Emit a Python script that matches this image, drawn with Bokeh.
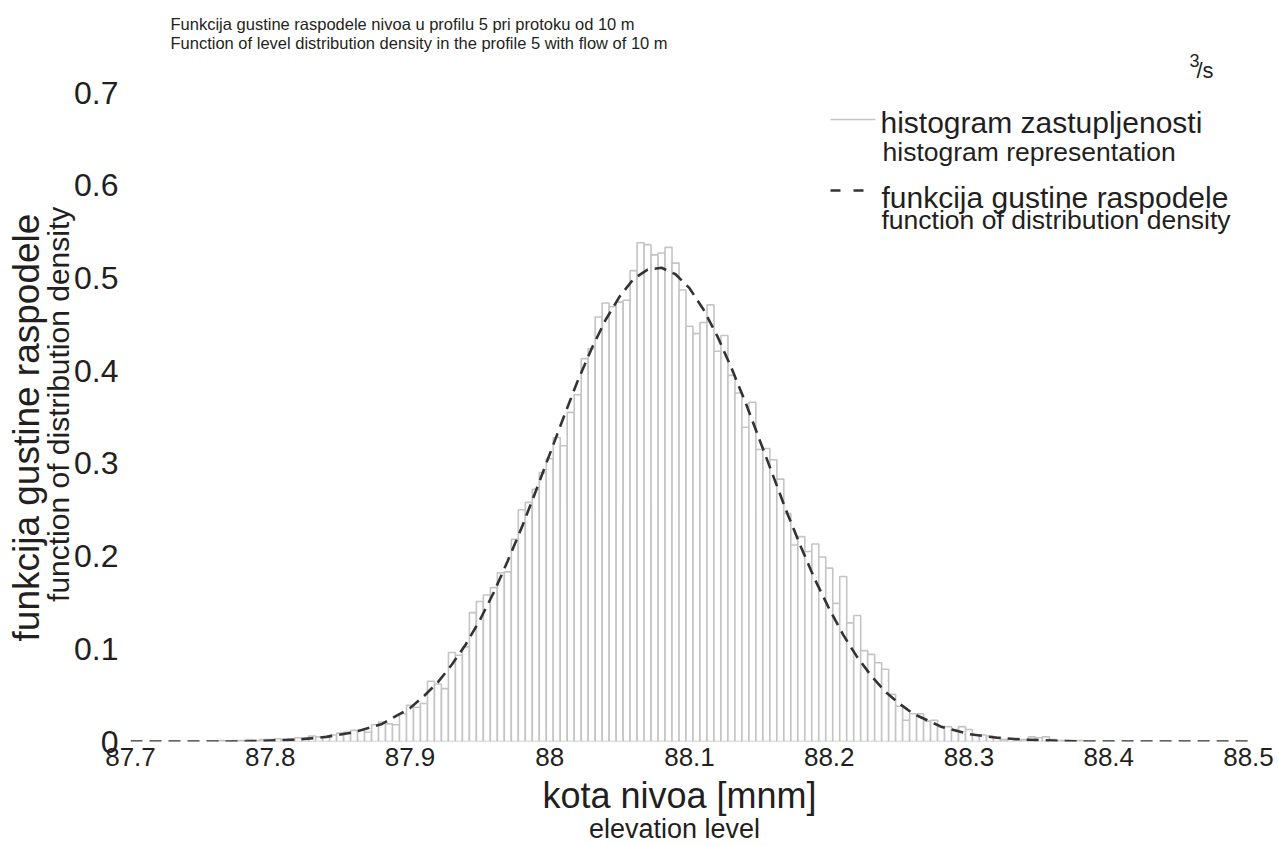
from bokeh.plotting import figure
from bokeh.models import Label, FixedTicker, ColumnDataSource, LinearAxis
from bokeh.embed import file_html
from bokeh.resources import INLINE

# ---------------- data ----------------
x_ticks = [87.7, 87.8, 87.9, 88.0, 88.1, 88.2, 88.3, 88.4, 88.5]
x_tick_labels = ["87.7", "87.8", "87.9", "88", "88.1", "88.2", "88.3", "88.4", "88.5"]
y_ticks = [0.0, 0.1, 0.2, 0.3, 0.4, 0.5, 0.6, 0.7]
y_tick_labels = ["0", "0.1", "0.2", "0.3", "0.4", "0.5", "0.6", "0.7"]

bin_width = 0.005
bin_centers = [
    87.765, 87.770, 87.775, 87.780, 87.785, 87.790, 87.795, 87.800, 87.805, 87.810,
    87.815, 87.820, 87.825, 87.830, 87.835, 87.840, 87.845, 87.850, 87.855, 87.860,
    87.865, 87.870, 87.875, 87.880, 87.885, 87.890, 87.895, 87.900, 87.905, 87.910,
    87.915, 87.920, 87.925, 87.930, 87.935, 87.940, 87.945, 87.950, 87.955, 87.960,
    87.965, 87.970, 87.975, 87.980, 87.985, 87.990, 87.995, 88.000, 88.005, 88.010,
    88.015, 88.020, 88.025, 88.030, 88.035, 88.040, 88.045, 88.050, 88.055, 88.060,
    88.065, 88.070, 88.075, 88.080, 88.085, 88.090, 88.095, 88.100, 88.105, 88.110,
    88.115, 88.120, 88.125, 88.130, 88.135, 88.140, 88.145, 88.150, 88.155, 88.160,
    88.165, 88.170, 88.175, 88.180, 88.185, 88.190, 88.195, 88.200, 88.205, 88.210,
    88.215, 88.220, 88.225, 88.230, 88.235, 88.240, 88.245, 88.250, 88.255, 88.260,
    88.265, 88.270, 88.275, 88.280, 88.285, 88.290, 88.295, 88.300, 88.305, 88.310,
    88.315, 88.320, 88.325, 88.330, 88.335, 88.340, 88.345, 88.350, 88.355, 88.360,
    88.365, 88.370, 88.375, 88.380,
]
hist_values = [
    0.001, 0.000, 0.001, 0.001, 0.002, 0.001, 0.002, 0.002, 0.003, 0.002,
    0.003, 0.004, 0.004, 0.006, 0.005, 0.005, 0.007, 0.009, 0.010, 0.012,
    0.012, 0.010, 0.018, 0.021, 0.019, 0.018, 0.030, 0.039, 0.037, 0.041,
    0.065, 0.062, 0.057, 0.096, 0.093, 0.102, 0.139, 0.151, 0.158, 0.166,
    0.182, 0.183, 0.218, 0.250, 0.258, 0.272, 0.290, 0.305, 0.328, 0.319,
    0.355, 0.374, 0.413, 0.424, 0.458, 0.473, 0.469, 0.474, 0.476, 0.508,
    0.538, 0.536, 0.525, 0.527, 0.533, 0.516, 0.487, 0.448, 0.440, 0.452,
    0.471, 0.421, 0.438, 0.395, 0.376, 0.339, 0.366, 0.315, 0.316, 0.304,
    0.283, 0.246, 0.212, 0.221, 0.205, 0.213, 0.199, 0.187, 0.149, 0.178,
    0.128, 0.136, 0.098, 0.094, 0.085, 0.078, 0.051, 0.038, 0.023, 0.030,
    0.030, 0.022, 0.023, 0.016, 0.016, 0.013, 0.016, 0.013, 0.007, 0.007,
    0.006, 0.005, 0.002, 0.003, 0.002, 0.002, 0.005, 0.004, 0.005, 0.002,
    0.001, 0.001, 0.000, 0.001,
]

curve_x = [87.70, 87.72, 87.74, 87.76, 87.78, 87.80, 87.82, 87.84, 87.86, 87.88,
           87.90, 87.91, 87.92, 87.93, 87.94, 87.95, 87.96, 87.97, 87.98, 87.99,
           88.00, 88.01, 88.02, 88.03, 88.04, 88.05, 88.06, 88.07, 88.08, 88.09,
           88.10, 88.11, 88.12, 88.13, 88.14, 88.15, 88.16, 88.17, 88.18, 88.19,
           88.20, 88.21, 88.22, 88.23, 88.24, 88.25, 88.26, 88.28, 88.30, 88.32,
           88.34, 88.36, 88.38, 88.40, 88.44, 88.50]
curve_y = [0.000, 0.000, 0.000, 0.000, 0.000, 0.001, 0.002, 0.005, 0.010, 0.019,
           0.036, 0.049, 0.064, 0.083, 0.105, 0.131, 0.161, 0.195, 0.231, 0.270,
           0.310, 0.350, 0.389, 0.424, 0.455, 0.480, 0.499, 0.509, 0.511, 0.504,
           0.489, 0.466, 0.437, 0.403, 0.366, 0.326, 0.286, 0.246, 0.209, 0.174,
           0.143, 0.115, 0.091, 0.071, 0.054, 0.041, 0.030, 0.016, 0.008, 0.004,
           0.002, 0.001, 0.000, 0.000, 0.000, 0.000]

# ---------------- layout (screen px of the reference) ----------------
W, H = 1276, 846
FL, FR, FT, FB = 130, 1248, 0, 741          # frame edges
X0, X1 = 87.7, 88.5
PX_PER_Y = 927.0                            # px per 1.0 on the y axis
Y_TOP = (FB - FT) / PX_PER_Y                # frame reaches the top of the canvas

FONT = "Liberation Sans"
INK = "#231f20"
NB = "\u00a0"

p = figure(width=W, height=H, x_range=(X0, X1), y_range=(0, Y_TOP),
           output_backend="svg", toolbar_location=None, title_location=None,
           min_border_left=FL, min_border_right=W - FR,
           min_border_top=FT, min_border_bottom=H - FB)
p.outline_line_color = None
p.grid.grid_line_color = None
p.background_fill_color = "white"
p.border_fill_color = "white"


def plain(ax, tick_size="26px"):
    ax.axis_line_color = None
    ax.major_tick_line_color = None
    ax.minor_tick_line_color = None
    ax.major_tick_out = 0
    ax.major_tick_in = 0
    ax.minor_tick_out = 0
    ax.minor_tick_in = 0
    ax.major_label_text_font = FONT
    ax.major_label_text_font_size = tick_size
    ax.major_label_text_color = INK
    ax.axis_label_text_font = FONT
    ax.axis_label_text_color = INK
    ax.axis_label_text_font_style = "normal"


xa = p.xaxis[0]
ya = p.yaxis[0]
plain(xa, "26px")
plain(ya, "32px")
xa.ticker = FixedTicker(ticks=x_ticks)
xa.major_label_overrides = {f"{t:g}": l for t, l in zip(x_ticks, x_tick_labels)}
xa.major_label_standoff = 6
ya.ticker = FixedTicker(ticks=y_ticks)
ya.major_label_overrides = {f"{t:g}": l for t, l in zip(y_ticks, y_tick_labels)}
ya.major_label_standoff = 12


# extra axes only carry the two-line axis titles (NBSP padding shifts the centre)
def title_axis(text, size, standoff):
    ax = LinearAxis(ticker=FixedTicker(ticks=[]), axis_label=text)
    plain(ax)
    ax.axis_label_text_font_size = f"{size}px"
    ax.axis_label_standoff = standoff
    ax.major_label_standoff = 0
    return ax

p.add_layout(title_axis("kota nivoa [mnm]" + NB * 2, 36, 6), "below")
p.add_layout(title_axis("elevation level" + NB * 4, 27, -5), "below")
p.add_layout(title_axis("function of distribution density" + NB * 8, 30, -3), "left")
p.add_layout(title_axis("funkcija gustine raspodele" + NB * 11, 37, -8), "left")

src = ColumnDataSource(dict(
    left=[c - bin_width / 2 for c in bin_centers],
    right=[c + bin_width / 2 for c in bin_centers],
    top=hist_values,
    bottom=[0.0] * len(hist_values),
))
p.quad(left="left", right="right", top="top", bottom="bottom", source=src,
       fill_color="white", line_color="#c4c4c4", line_width=1.6)
p.line(curve_x, curve_y, line_color="#333333", line_width=2.6, line_dash="12 7")


# ---------------- texts inside the frame ----------------
def dx(px):
    return X0 + (px - FL) * (X1 - X0) / (FR - FL)

def dy(py):
    return (FB - py) / PX_PER_Y

def lab(text, px, py_base, size, align="left"):
    # py_base is the wanted baseline; labels are anchored on the middle
    p.add_layout(Label(x=dx(px), y=dy(py_base - 0.35 * size), text=text, text_font=FONT,
                       text_font_size=f"{size}px", text_color=INK,
                       text_align=align, text_baseline="middle"))

# title (two lines) and the unit
lab("Funkcija gustine raspodele nivoa u profilu 5 pri protoku od 10 m", 170, 29, 16.5)
lab("Function of level distribution density in the profile 5 with flow of 10 m", 170, 48, 16.5)
lab("3", 1189, 66, 18)
lab("/s", 1196, 78, 22)

# legend
p.line([dx(830), dx(875)], [dy(119), dy(119)], line_color="#c4c4c4", line_width=1.6)
p.line([dx(830), dx(864)], [dy(190), dy(190)], line_color="#333333", line_width=2.6,
       line_dash="10 13")
lab("histogram zastupljenosti", 880, 132, 30)
lab("histogram representation", 882, 161, 26.5)
lab("funkcija gustine raspodele", 881, 207, 30)
lab("function of distribution density", 881, 228.5, 26.5)

open("out.html", "w").write(file_html(p, INLINE))
